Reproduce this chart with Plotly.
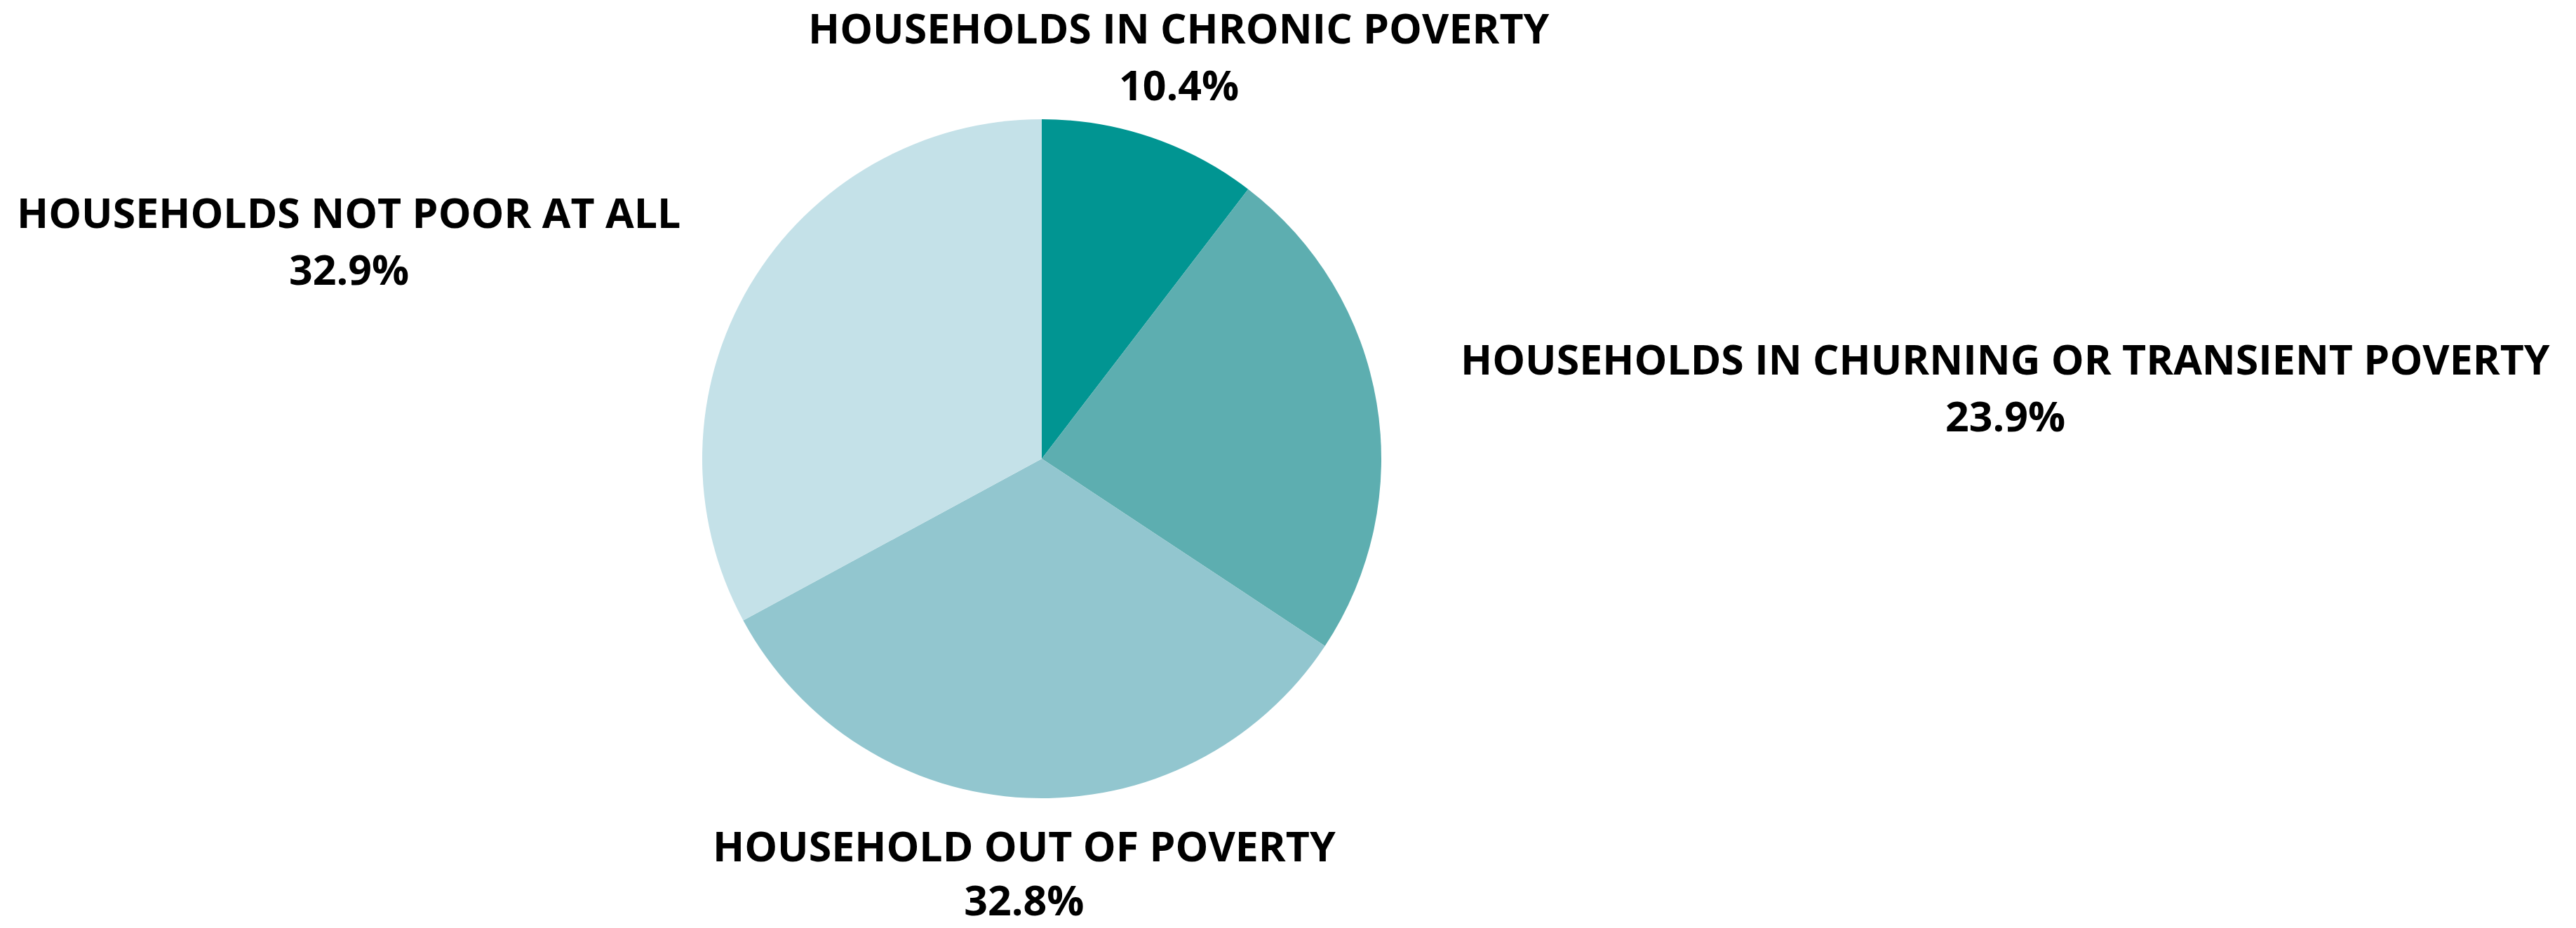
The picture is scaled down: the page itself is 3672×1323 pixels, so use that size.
import plotly.graph_objects as go

# Household poverty status shares
categories = [
    "HOUSEHOLDS IN CHRONIC POVERTY",
    "HOUSEHOLDS IN CHURNING OR TRANSIENT POVERTY",
    "HOUSEHOLD OUT OF POVERTY",
    "HOUSEHOLDS NOT POOR AT ALL",
]
shares = [10.4, 23.9, 32.8, 32.9]
colors = ["#019592", "#5DAEB0", "#92C6CF", "#C4E1E8"]

W, H = 3672, 1323

# Label anchor positions (pixels from the top-left corner) for title and value lines;
# None means the two-line label rests on the bottom edge
label_x = [1680, 2858, 1460, 497]
title_y = [39, 511, None, 302]
value_y = [120, 592, None, 383]

cx, cy, r = 1485, 654, 484

fig = go.Figure(
    go.Pie(
        labels=categories,
        values=shares,
        marker=dict(colors=colors, line=dict(width=0)),
        sort=False,
        direction="clockwise",
        rotation=0,
        textinfo="none",
        hoverinfo="label+percent",
        domain=dict(
            x=[(cx - r) / W, (cx + r) / W],
            y=[(H - cy - r) / H, (H - cy + r) / H],
        ),
        showlegend=False,
    )
)

font = dict(family="Open Sans", size=59, color="#000000")
for name, val, x, ty, vy in zip(categories, shares, label_x, title_y, value_y):
    if ty is None:
        fig.add_annotation(
            x=x / W, y=0, xref="paper", yref="paper",
            text=f"<b>{name}</b><br><b>{val:.1f}%</b>", showarrow=False,
            xanchor="center", yanchor="bottom", align="center",
            font=font, borderpad=0,
        )
        continue
    fig.add_annotation(
        x=x / W, y=1 - ty / H, xref="paper", yref="paper",
        text=f"<b>{name}</b>", showarrow=False,
        xanchor="center", yanchor="middle", font=font,
    )
    fig.add_annotation(
        x=x / W, y=1 - vy / H, xref="paper", yref="paper",
        text=f"<b>{val:.1f}%</b>", showarrow=False,
        xanchor="center", yanchor="middle", font=font,
    )

fig.update_layout(
    width=W, height=H,
    margin=dict(l=0, r=0, t=0, b=0),
    paper_bgcolor="#FFFFFF",
    plot_bgcolor="#FFFFFF",
)

fig.write_html("out.html")
